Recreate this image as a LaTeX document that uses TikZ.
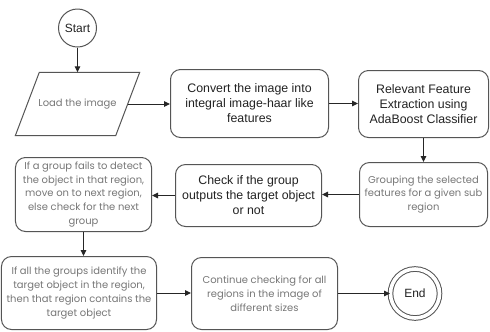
\documentclass[tikz,border=0pt]{standalone}
\usepackage{fontspec}
\setmainfont{Liberation Sans}[Color=222222]
\newfontfamily\grayfont{Poppins}[Color=777777]
\usetikzlibrary{arrows.meta}
\definecolor{edgecol}{HTML}{555555}
\tikzset{
  box/.style={draw=edgecol, line width=1bp, rounded corners=10bp, align=center, inner sep=2bp},
  darkbox/.style={box, font=\fontsize{12.4}{15}\selectfont},
  graybox/.style={box, font=\grayfont\fontsize{10}{14}\selectfont},
  edgeline/.style={draw=edgecol, line width=1bp},
  conn/.style={draw=black!85, line width=1bp, -{Triangle[length=6bp,width=5.5bp]}},
}
\begin{document}
\begin{tikzpicture}[x=1bp,y=-1bp]
\useasboundingbox (0,0) rectangle (490,331);
\fill[white] (0,0) rectangle (490,331);

\node[edgeline, circle, minimum size=38bp, inner sep=0pt, font=\fontsize{12}{14}\selectfont] (start) at (77.5,28) {Start};

\node[minimum width=100bp, minimum height=63bp, inner sep=0pt, font=\grayfont\fontsize{10}{14}\selectfont] (load) at (77.5,104) {Load the image};
\draw[edgeline] ([xshift=12bp]load.north west) -- ([xshift=12bp]load.north east)
  -- ([xshift=-12bp]load.south east) -- ([xshift=-12bp]load.south west) -- cycle;

\node[darkbox, minimum width=158bp, minimum height=68bp] (convert) at (249.5,103.5) {Convert the image into\\integral image-haar like\\features};

\node[darkbox, minimum width=130bp, minimum height=67bp] (relevant) at (423.5,104) {Relevant Feature\\Extraction using\\AdaBoost Classifier};

\node[graybox, minimum width=128bp, minimum height=64bp] (grouping) at (423.5,194.5) {Grouping the selected\\features for a given sub\\region};

\node[darkbox, minimum width=146bp, minimum height=62bp] (check) at (248.5,195.5) {Check if the group\\outputs the target object\\or not};

\node[graybox, minimum width=136bp, minimum height=74bp] (fails) at (83.5,194.5) {If a group fails to detect\\the object in that region,\\move on to next region,\\else check for the next\\group};

\node[graybox, minimum width=155bp, minimum height=73bp] (ifall) at (79,293) {If all the groups identify the\\target object in the region,\\then that region contains the\\target object};

\node[graybox, minimum width=146bp, minimum height=72bp] (cont) at (264.5,293.5) {Continue checking for all\\regions in the image of\\different sizes};

\node[edgeline, circle, double, double distance=3.6bp, minimum size=49bp, inner sep=0pt, font=\fontsize{12}{14}\selectfont] (end) at (415,293.5) {End};

\draw[conn] (start.south) -- (start.south |- load.north);
\draw[conn] (load.east) -- (load.east -| convert.west);
\draw[conn] (convert.east) -- (convert.east -| relevant.west);
\draw[conn] (relevant.south) -- (relevant.south |- grouping.north);
\draw[conn] (grouping.west) -- (grouping.west -| check.east);
\draw[conn] (check.west) -- (check.west -| fails.east);
\draw[conn] (fails.south) -- (fails.south |- ifall.north);
\draw[conn] (ifall.east) -- (ifall.east -| cont.west);
\draw[conn] (cont.east) -- (end.west);
\end{tikzpicture}
\end{document}
